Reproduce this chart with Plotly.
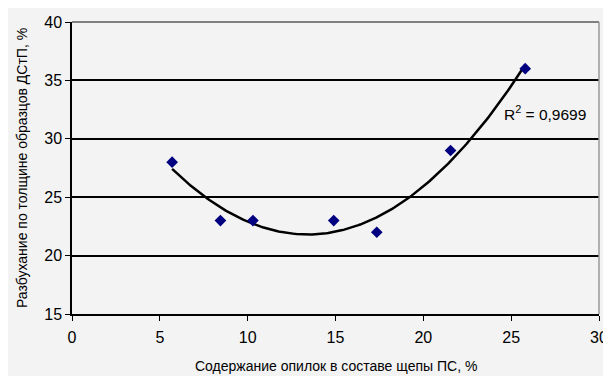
import numpy as np
import plotly.graph_objects as go

# Data
sawdust_pct = [5.7, 8.45, 10.3, 14.9, 17.35, 21.55, 25.8]
swelling_pct = [28, 23, 23, 23, 22, 29, 36]
x_ticks = [0, 5, 10, 15, 20, 25, 30]
y_ticks = [15, 20, 25, 30, 35, 40]
r2_label = "R<sup>2</sup> = 0,9699"
x_title = "Содержание опилок в составе щепы ПС, %"
y_title = "Разбухание по толщине образцов ДСтП, %"

# Polynomial (2nd order) trend line, as in the source
coef = np.polyfit(sawdust_pct, swelling_pct, 2)
xt = np.linspace(min(sawdust_pct), max(sawdust_pct), 200)
yt = np.polyval(coef, xt)

FONT = "Liberation Sans, Arial, sans-serif"
BG = "#f3f3f3"

fig = go.Figure()
fig.add_trace(go.Scatter(x=xt, y=yt, mode="lines",
                         line=dict(color="black", width=2.5), hoverinfo="skip"))
fig.add_trace(go.Scatter(x=sawdust_pct, y=swelling_pct, mode="markers",
                         marker=dict(symbol="diamond", size=9, color="#000080")))

# page is offset by the 8px body margin
W, H = 603, 368
L, R, T, B = 64, 12, 14, 62
pw, ph = W - L - R, H - T - B

def px(xpix):
    return (xpix - L) / pw

def py(ypix):
    return (H - B - ypix) / ph

fig.update_layout(
    width=W, height=H,
    margin=dict(l=L, r=R, t=T, b=B, autoexpand=False),
    paper_bgcolor=BG,
    plot_bgcolor=BG,
    showlegend=False,
    font=dict(family=FONT, color="black"),
    xaxis=dict(range=[0, 30], tickvals=x_ticks, ticks="outside", ticklen=5,
               tickcolor="black", showline=True, linecolor="black", linewidth=1.5,
               showgrid=False, zeroline=False, tickfont=dict(size=16),
               ticklabelstandoff=3, automargin=False),
    yaxis=dict(range=[15, 40], tickvals=y_ticks, ticks="outside", ticklen=5,
               tickcolor="black", showline=True, linecolor="black", linewidth=1.5,
               showgrid=True, gridcolor="black", gridwidth=1.5, zeroline=False,
               tickfont=dict(size=16), automargin=False),
    shapes=[
        dict(type="line", xref="paper", yref="paper", layer="above",
             x0=0, x1=1, y0=1, y1=1, line=dict(color="#808080", width=2)),
        dict(type="line", xref="paper", yref="paper", layer="above",
             x0=1, x1=1, y0=0, y1=1, line=dict(color="#999999", width=1.5)),
    ],
    annotations=[
        dict(x=24.5, y=32.2, xref="x", yref="y", text=r2_label, showarrow=False,
             xanchor="left", yanchor="middle", font=dict(size=15.5, family=FONT)),
        dict(x=0.5, y=py(358), xref="paper", yref="paper", text=x_title,
             showarrow=False, xanchor="center", yanchor="middle",
             font=dict(size=14, family=FONT)),
        dict(x=px(14), y=0.5, xref="paper", yref="paper", text=y_title,
             showarrow=False, xanchor="center", yanchor="middle", textangle=-90,
             font=dict(size=14, family=FONT)),
    ],
)

fig.write_html("out.html")
